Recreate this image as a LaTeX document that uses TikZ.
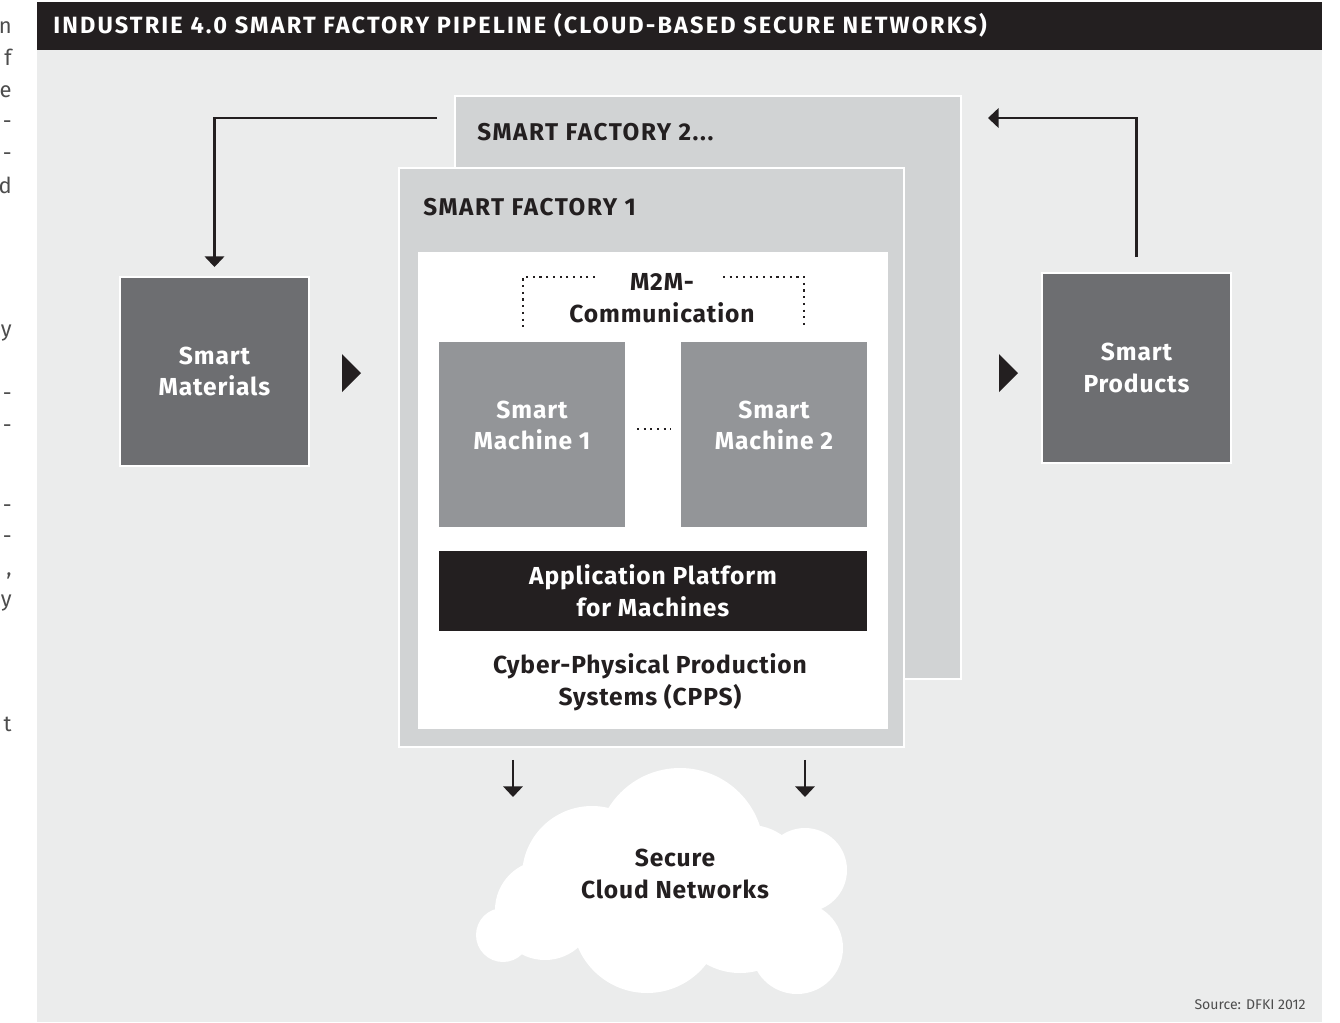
\documentclass[tikz,border=0pt]{standalone}
\usepackage{fontspec}
\setmainfont{Fira Sans}
\usetikzlibrary{arrows.meta,calc,positioning}

\definecolor{panelgrey}{HTML}{EBECEC}
\definecolor{facgrey}{HTML}{D1D3D4}
\definecolor{darkgrey}{HTML}{6D6E71}
\definecolor{machgrey}{HTML}{939598}
\definecolor{ink}{HTML}{231F20}
\definecolor{bodytext}{HTML}{4D4D4D}

\newcommand{\labelfont}{\bfseries\fontsize{14}{18}\selectfont\addfontfeatures{LetterSpace=3.5}}

\tikzset{
  box/.style={rectangle, draw=white, line width=1.2pt, inner sep=0pt, outer sep=0pt},
  factory/.style={box, fill=facgrey},
  darkbox/.style={box, fill=darkgrey, minimum width=3.78cm, minimum height=3.78cm,
    text=white, font=\labelfont, align=center},
  machine/.style={rectangle, fill=machgrey, minimum width=3.72cm, minimum height=3.7cm, inner sep=0pt},
  lbl/.style={font=\labelfont, align=center, text=ink, inner sep=0pt},
  heading/.style={font=\bfseries\fontsize{13.8}{16}\selectfont\addfontfeatures{LetterSpace=6.6},
    text=ink, anchor=base west, inner sep=0pt},
  flow/.style={draw=ink, line width=1.3pt, -{Triangle[width=11pt,length=6pt]}},
  feed/.style={draw=ink, line width=1pt, -{Triangle[width=11pt,length=6pt]}},
  dots/.style={draw=ink, line width=1.2pt, dash pattern=on 1.2pt off 2.6pt},
}

\begin{document}
\begin{tikzpicture}[x=0.02cm, y=-0.02cm]
\useasboundingbox[fill=white] (0,0) rectangle (1340,1022);

% panel and title bar
\fill[panelgrey] (37,50) rectangle (1322,1022);
\fill[ink] (37,2) rectangle (1322,50);
\node[anchor=base west, inner sep=0pt, text=white,
  font=\bfseries\fontsize{13.4}{15}\selectfont\addfontfeatures{LetterSpace=9}]
  (title) at (53,33) {INDUSTRIE 4.0 SMART FACTORY PIPELINE (CLOUD-BASED SECURE NETWORKS)};

% cut-off body text of the page
\foreach \yy/\ch in {33/n, 65/f, 97/e, 128/-, 160/-, 193/d, 336/y, 400/-, 432/-, 512/-, 543/-, 575/{,}, 606/y, 731/t}
  \node[anchor=base east, inner sep=0pt, text=bodytext, font=\fontsize{12.5}{15}\selectfont] at (12,\yy) {\ch};

% factories
\node[factory, minimum width=10.12cm, minimum height=11.66cm] (fac2) at (708,387.5) {};
\node[heading] (fac2title) at (477,140) {SMART FACTORY 2...};
\node[factory, minimum width=10.1cm, minimum height=11.58cm] (fac1) at (651.5,457.5) {};
\node[heading] (fac1title) at (423,215.5) {SMART FACTORY 1};
\node[rectangle, fill=white, minimum width=9.4cm, minimum height=9.54cm, inner sep=0pt] (cpps) at (653,490.5) {};

% machines
\node[machine] (m1) at (532,434.5) {};
\node[machine] (m2) at (774,434.5) {};
\node[lbl, text=white] (m1txt) at ($(m1)+(0,-9)$) {Smart\\Machine 1};
\node[lbl, text=white] (m2txt) at ($(m2)+(0,-9)$) {Smart\\Machine 2};
\draw[dots] (637,429) -- (671,429);

\node[lbl] (m2m) at (662,298) {M2M-\\Communication};
\draw[dots] (595,277) -- (523,277) -- (523,327);
\draw[dots] (723,277) -- (804,277) -- (804,327);

\node[rectangle, fill=ink, minimum width=8.56cm, minimum height=1.6cm, inner sep=0pt,
  text=white, font=\labelfont, align=center] (platform) at (653,591)
  {Application Platform\\for Machines};
\node[lbl] (cppstxt) at (650,682) {Cyber-Physical Production\\Systems (CPPS)};

% materials and products
\node[darkbox] (materials) at (214.5,371.5) {Smart\\Materials};
\node[darkbox, minimum height=3.8cm] (products) at (1136.5,368) {Smart\\Products};
\fill[ink] (342,354) -- (361,373) -- (342,392) -- cycle;
\fill[ink] (999,354) -- (1018,373) -- (999,392) -- cycle;

\coordinate (backin) at (437,118);
\coordinate (backout) at (988,118);
\draw[flow, shorten >=0.2cm] (backin) -| (materials.north);
\draw[flow, shorten <=0.32cm] (products.north) |- (backout);

% cloud
\fill[white] (680,852) circle[radius=84]
  (592,876) circle[radius=70]
  (503,935) circle[radius=27]
  (545,910) circle[radius=50]
  (647,918) circle[radius=75]
  (797,948) circle[radius=46]
  (805,870) circle[radius=42]
  (740,905) circle[radius=68]
  (750,880) circle[radius=55];
\node[lbl] (cloud) at (675,874) {Secure\\Cloud Networks};

\coordinate (c1) at (513,797);
\coordinate (c2) at (805,797);
\draw[feed, shorten <=0.26cm] (c1 |- fac1.south) -- (c1);
\draw[feed, shorten <=0.26cm] (c2 |- fac1.south) -- (c2);

\node[anchor=base east, inner sep=0pt, text=bodytext, font=\fontsize{8}{10}\selectfont]
  (source) at (1306,1009) {Source: DFKI 2012};
\end{tikzpicture}
\end{document}
